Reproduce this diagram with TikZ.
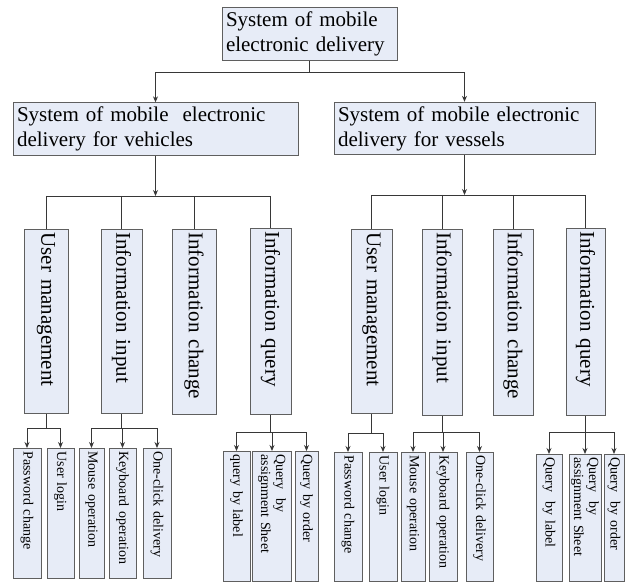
\documentclass[tikz,border=0pt]{standalone}
\usepackage{fontspec}
\setmainfont{Liberation Serif}
\usetikzlibrary{arrows.meta}

\definecolor{boxfill}{RGB}{231,236,247}
\definecolor{boxline}{RGB}{95,95,95}
\definecolor{wire}{RGB}{55,55,55}

\tikzset{
  box/.style={draw=boxline, fill=boxfill, line width=1pt, inner sep=4pt, align=left},
  bigtext/.style={font=\fontsize{21}{25}\selectfont},
  smalltext/.style={font=\fontsize{14}{15}\selectfont},
  hbox/.style 2 args={box, bigtext, text width=#1, minimum height=#2},
  vbox/.style 2 args={box, rotate=-90, anchor=west, inner xsep=3pt, inner ysep=1pt,
    text width=#1, minimum height=#2},
  wire/.style={draw=wire, line width=0.9pt}
}

\begin{document}
\begin{tikzpicture}[x=1pt,y=-1pt,>={Stealth[length=6pt,width=5pt]}]
\useasboundingbox (0,0) rectangle (625,583);

% top levels
\node[hbox={167}{52}] (sys) at (309.5,34) {System of mobile\\electronic delivery};
\node[hbox={277}{52}] (veh) at (155.5,129) {System of mobile\ \ electronic\\delivery for vehicles};
\node[hbox={253}{52}] (ves) at (464.5,128.5) {System of mobile electronic\\delivery for vessels};

\coordinate (sysbus) at (309.5,72);
\draw[wire] (sys.south) -- (sysbus);
\draw[wire,->] (sysbus) -| (veh.north);
\draw[wire,->] (sysbus) -| (ves.north);

% modules for vehicles
\node[vbox={178}{44},bigtext] (um1) at (46,229) {User management};
\node[vbox={178}{41},bigtext] (ii1) at (121.5,229) {Information input};
\node[vbox={179}{44},bigtext] (ic1) at (194,229) {Information change};
\node[vbox={180}{41},bigtext] (iq1) at (270.5,228) {Information query};

% modules for vessels
\node[vbox={178}{41},bigtext] (um2) at (371.5,229) {User management};
\node[vbox={180}{40},bigtext] (ii2) at (442,229) {Information input};
\node[vbox={180}{40},bigtext] (ic2) at (513,229) {Information change};
\node[vbox={181}{39},bigtext] (iq2) at (585.5,228) {Information query};

\coordinate (vehbus) at (155.5,196);
\coordinate (vesbus) at (464.5,195);
\draw[wire,->] (veh.south) -- (vehbus);
\draw[wire,->] (ves.south) -- (vesbus);
\draw[wire] (um1.west |- vehbus) -- (iq1.west |- vehbus);
\draw[wire] (um2.west |- vesbus) -- (iq2.west |- vesbus);
\draw[wire] (um1.west |- vehbus) -- (um1.west);
\draw[wire] (ii1.west |- vehbus) -- (ii1.west);
\draw[wire] (ic1.west |- vehbus) -- (ic1.west);
\draw[wire] (iq1.west |- vehbus) -- (iq1.west);
\draw[wire] (um2.west |- vesbus) -- (um2.west);
\draw[wire] (ii2.west |- vesbus) -- (ii2.west);
\draw[wire] (ic2.west |- vesbus) -- (ic2.west);
\draw[wire] (iq2.west |- vesbus) -- (iq2.west);

% functions for vehicles
\node[vbox={124}{28},smalltext] (pc1) at (27,448) {Password change};
\node[vbox={124}{27},smalltext] (ul1) at (60.5,448) {User login};
\node[vbox={124}{25},smalltext] (mo1) at (91.5,448) {Mouse operation};
\node[vbox={124}{27},smalltext] (ko1) at (122.5,448) {Keyboard operation};
\node[vbox={124}{28},smalltext] (oc1) at (157,448) {One-click delivery};
\node[vbox={124}{27},smalltext] (ql1) at (236.5,451) {query by label};
\node[vbox={124}{39},smalltext] (qa1) at (272,451) {Query\ \ by\\assignment Sheet};
\node[vbox={124}{23},smalltext] (qo1) at (306.5,451) {Query by order};

% functions for vessels
\node[vbox={123}{28},smalltext] (pc2) at (348,452) {Password change};
\node[vbox={123}{28},smalltext] (ul2) at (383,452) {User login};
\node[vbox={123}{24},smalltext] (mo2) at (413,452) {Mouse operation};
\node[vbox={123}{28},smalltext] (ko2) at (443,452) {Keyboard operation};
\node[vbox={123}{27},smalltext] (oc2) at (479.5,452) {One-click delivery};
\node[vbox={121}{26},smalltext] (ql2) at (549,454) {Query\ \ by label};
\node[vbox={121}{32},smalltext] (qa2) at (585,454) {Query\ \ by\\assignment Sheet};
\node[vbox={121}{20},smalltext] (qo2) at (614,454) {Query\ \ by order};

% buses to functions
\coordinate (um1bus) at (46,428);
\coordinate (ii1bus) at (121.5,428);
\coordinate (iq1bus) at (270.5,432);
\coordinate (um2bus) at (371.5,433);
\coordinate (ii2bus) at (442,432);
\coordinate (iq2bus) at (585.5,432);

\draw[wire] (um1.east) -- (um1bus);
\draw[wire] (ii1.east) -- (ii1bus);
\draw[wire] (iq1.east) -- (iq1bus);
\draw[wire] (um2.east) -- (um2bus);
\draw[wire] (ii2.east) -- (ii2bus);
\draw[wire] (iq2.east) -- (iq2bus);

\draw[wire] (pc1.west |- um1bus) -- (ul1.west |- um1bus);
\draw[wire] (mo1.west |- ii1bus) -- (oc1.west |- ii1bus);
\draw[wire] (ql1.west |- iq1bus) -- (qo1.west |- iq1bus);
\draw[wire] (pc2.west |- um2bus) -- (ul2.west |- um2bus);
\draw[wire] (mo2.west |- ii2bus) -- (oc2.west |- ii2bus);
\draw[wire] (ql2.west |- iq2bus) -- (qo2.west |- iq2bus);

\draw[wire,->] (pc1.west |- um1bus) -- (pc1.west);
\draw[wire,->] (ul1.west |- um1bus) -- (ul1.west);
\draw[wire,->] (mo1.west |- ii1bus) -- (mo1.west);
\draw[wire,->] (ko1.west |- ii1bus) -- (ko1.west);
\draw[wire,->] (oc1.west |- ii1bus) -- (oc1.west);
\draw[wire,->] (ql1.west |- iq1bus) -- (ql1.west);
\draw[wire,->] (qa1.west |- iq1bus) -- (qa1.west);
\draw[wire,->] (qo1.west |- iq1bus) -- (qo1.west);
\draw[wire,->] (pc2.west |- um2bus) -- (pc2.west);
\draw[wire,->] (ul2.west |- um2bus) -- (ul2.west);
\draw[wire,->] (mo2.west |- ii2bus) -- (mo2.west);
\draw[wire,->] (ko2.west |- ii2bus) -- (ko2.west);
\draw[wire,->] (oc2.west |- ii2bus) -- (oc2.west);
\draw[wire,->] (ql2.west |- iq2bus) -- (ql2.west);
\draw[wire,->] (qa2.west |- iq2bus) -- (qa2.west);
\draw[wire,->] (qo2.west |- iq2bus) -- (qo2.west);

\end{tikzpicture}
\end{document}
